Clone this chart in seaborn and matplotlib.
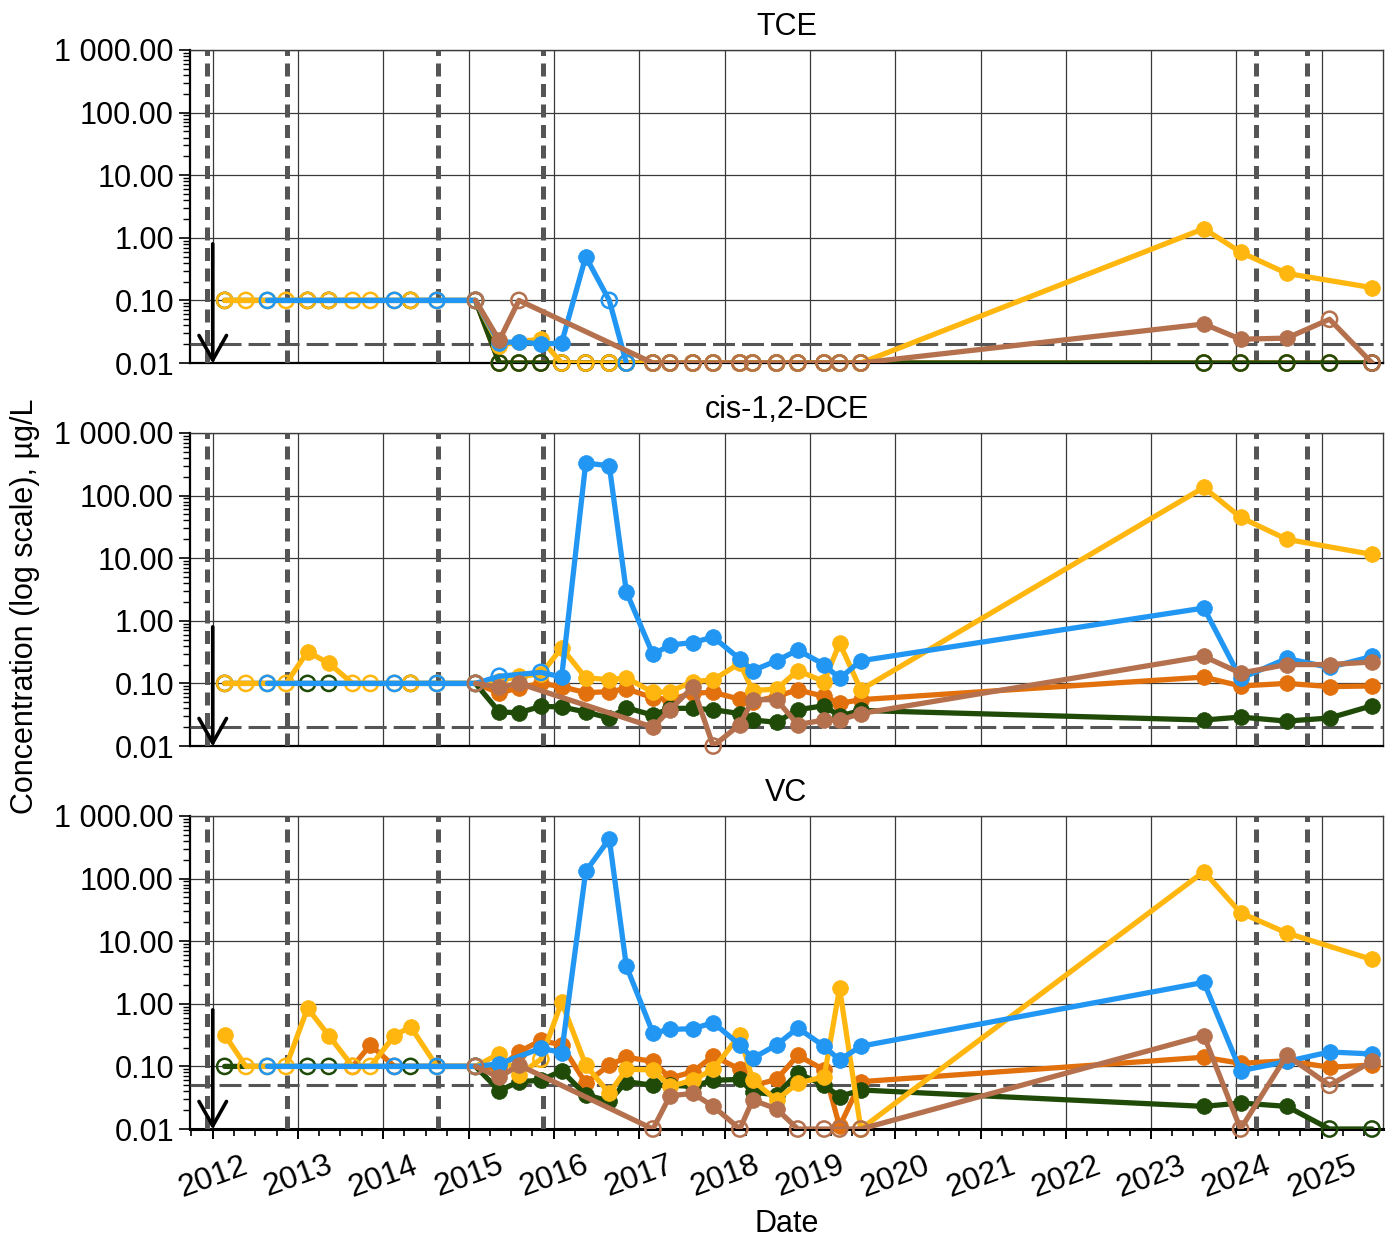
import numpy as np
import pandas as pd
import matplotlib
matplotlib.use("Agg")
import matplotlib.pyplot as plt
import matplotlib.dates as mdates
from matplotlib.ticker import FixedLocator, FuncFormatter, LogLocator, NullFormatter
import seaborn as sns

# sampling dates shared by all wells
sample_dates = [
    "2012-02-21", "2012-05-22", "2012-08-22", "2012-11-10", "2013-02-10", "2013-05-12",
    "2013-08-22", "2013-11-06", "2014-02-17", "2014-04-27", "2014-08-18", "2015-01-30",
    "2015-05-12", "2015-08-04", "2015-11-06", "2016-02-03", "2016-05-16", "2016-08-25",
    "2016-11-06", "2017-02-28", "2017-05-12", "2017-08-18", "2017-11-13", "2018-03-07",
    "2018-05-01", "2018-08-11", "2018-11-10", "2019-03-03", "2019-05-08", "2019-08-07",
    "2023-08-15", "2024-01-19", "2024-08-04", "2025-02-03", "2025-08-04",
]

# "<x" = not detected at reporting limit x, None = not sampled
tce_blue = [None, None, "<0.1", None, None, None, None, None, "<0.1", None, "<0.1", "<0.1",
            0.021, 0.022, 0.020, 0.021, 0.50, "<0.1", "<0.01", None, None, None, None, None,
            None, None, None, None, None, None,
            None, None, None, None, None]
tce_yellow = ["<0.1", "<0.1", "<0.1", "<0.1", "<0.1", "<0.1", "<0.1", "<0.1", "<0.1", "<0.1", "<0.1", "<0.1",
              0.019, 0.022, 0.024, "<0.01", "<0.01", "<0.01", "<0.01", "<0.01", "<0.01", "<0.01", "<0.01", "<0.01",
              "<0.01", "<0.01", "<0.01", "<0.01", "<0.01", "<0.01",
              1.4, 0.59, 0.27, None, 0.16]
tce_brown = [None, None, None, None, None, None, None, None, None, None, None, "<0.1",
             0.023, "<0.1", None, None, None, None, None, "<0.01", "<0.01", "<0.01", "<0.01", "<0.01",
             "<0.01", "<0.01", "<0.01", "<0.01", "<0.01", "<0.01",
             0.042, 0.024, 0.025, "<0.05", "<0.01"]
tce_orange = [None, None, None, None, None, None, None, None, None, None, None, "<0.1",
              "<0.01", "<0.01", "<0.01", "<0.01", "<0.01", "<0.01", "<0.01", "<0.01", "<0.01", "<0.01", "<0.01", "<0.01",
              "<0.01", "<0.01", "<0.01", "<0.01", "<0.01", "<0.01",
              "<0.01", "<0.01", "<0.01", "<0.01", "<0.01"]
tce_green = ["<0.1", None, None, None, "<0.1", "<0.1", None, None, None, "<0.1", None, "<0.1",
             "<0.01", "<0.01", "<0.01", "<0.01", "<0.01", "<0.01", "<0.01", "<0.01", "<0.01", "<0.01", "<0.01", "<0.01",
             "<0.01", "<0.01", "<0.01", "<0.01", "<0.01", "<0.01",
             "<0.01", "<0.01", "<0.01", "<0.01", "<0.01"]

dce_blue = [None, None, "<0.1", None, None, None, None, None, "<0.1", None, "<0.1", "<0.1",
            "<0.13", None, "<0.15", 0.127, 330, 300, 2.9, 0.29, 0.41, 0.45, 0.55, 0.245,
            0.16, 0.23, 0.34, 0.20, 0.12, 0.23,
            1.6, 0.12, 0.25, 0.18, 0.27]
dce_yellow = ["<0.1", "<0.1", "<0.1", "<0.1", 0.32, 0.21, "<0.1", "<0.1", "<0.1", "<0.1", "<0.1", "<0.1",
              0.11, 0.13, 0.14, 0.37, 0.123, 0.115, 0.123, 0.072, 0.074, 0.107, 0.114, 0.21,
              0.077, 0.081, 0.16, 0.107, 0.44, 0.079,
              135, 45, 20, None, 11.5]
dce_brown = [None, None, None, None, None, None, None, None, None, None, None, "<0.1",
             0.087, 0.10, None, None, None, None, None, 0.020, 0.038, 0.088, "<0.01", 0.022,
             0.055, 0.055, 0.022, 0.026, 0.026, 0.033,
             0.27, 0.146, 0.20, 0.20, 0.22]
dce_orange = [None, None, None, None, None, None, None, None, None, None, None, "<0.1",
              0.070, 0.085, 0.10, 0.089, 0.071, 0.074, 0.082, 0.059, 0.055, 0.070, 0.072, 0.056,
              0.051, 0.062, 0.079, 0.062, 0.048, 0.055,
              0.126, 0.091, 0.10, 0.089, 0.091]
dce_green = ["<0.1", None, None, None, "<0.1", "<0.1", None, None, None, "<0.1", None, "<0.1",
             0.035, 0.034, 0.043, 0.042, 0.035, 0.028, 0.041, 0.031, 0.040, 0.040, 0.038, 0.033,
             0.026, 0.024, 0.038, 0.044, 0.030, 0.037,
             0.026, 0.029, 0.025, 0.028, 0.044]

vc_blue = [None, None, "<0.1", None, None, None, None, None, "<0.1", None, "<0.1", "<0.1",
           0.11, None, 0.195, 0.166, 130, 430, 4.0, 0.34, 0.39, 0.40, 0.50, 0.22,
           0.135, 0.22, 0.41, 0.21, 0.126, 0.21,
           2.2, 0.085, 0.12, 0.17, 0.158]
vc_yellow = [0.32, "<0.1", "<0.1", "<0.1", 0.85, 0.31, "<0.1", "<0.1", 0.31, 0.43, "<0.1", "<0.1",
             0.16, 0.073, "<0.13", 1.07, 0.105, 0.037, 0.090, 0.088, 0.048, 0.060, 0.090, 0.32,
             0.060, 0.029, 0.054, 0.068, 1.77, "<0.01",
             129, 28.5, 13.5, None, 5.1]
vc_brown = [None, None, None, None, None, None, None, None, None, None, None, "<0.1",
            0.067, 0.105, None, None, None, None, None, "<0.01", 0.034, 0.037, 0.023, "<0.01",
            0.029, 0.021, "<0.01", "<0.01", "<0.01", "<0.01",
            0.31, "<0.01", 0.15, "<0.05", 0.12]
vc_orange = [None, None, None, None, None, None, "<0.1", 0.22, "<0.1", None, None, "<0.1",
             0.093, 0.17, 0.26, 0.22, 0.054, 0.105, 0.14, 0.12, 0.065, 0.082, 0.147, 0.090,
             0.049, 0.062, 0.15, 0.088, 0.011, 0.057,
             0.14, 0.112, 0.123, 0.097, 0.105]
vc_green = ["<0.1", None, None, None, "<0.1", "<0.1", None, None, None, "<0.1", None, "<0.1",
            0.041, 0.057, 0.060, 0.085, 0.035, 0.028, 0.057, 0.050, 0.050, 0.048, 0.060, 0.062,
            0.039, 0.035, 0.078, 0.050, 0.033, 0.042,
            0.023, 0.026, 0.023, "<0.01", "<0.01"]

panel_names = ["TCE", "cis-1,2-DCE", "VC"]
screening_levels = [0.02, 0.02, 0.05]
event_dates = ["2011-12-08", "2012-11-13", "2014-08-22", "2015-11-13", "2024-03-27", "2024-10-30"]
arrow_date = "2012-01-01"

panels = [
    {"green": tce_green, "orange": tce_orange, "yellow": tce_yellow, "blue": tce_blue, "brown": tce_brown},
    {"green": dce_green, "orange": dce_orange, "yellow": dce_yellow, "blue": dce_blue, "brown": dce_brown},
    {"green": vc_green, "orange": vc_orange, "yellow": vc_yellow, "blue": vc_blue, "brown": vc_brown},
]

colors = {"green": "#1F4A08", "orange": "#E2700C", "yellow": "#FFB710",
          "blue": "#2196F3", "brown": "#B5714E"}
draw_order = ["orange", "green", "yellow", "blue", "brown"]


def to_frame(raw):
    rows = []
    for d, v in zip(sample_dates, raw):
        if v is None:
            continue
        if isinstance(v, str):
            rows.append((pd.Timestamp(d), float(v[1:]), False))
        else:
            rows.append((pd.Timestamp(d), float(v), True))
    return pd.DataFrame(rows, columns=["date", "value", "detected"])


sns.set_style("white")
plt.rcParams["font.family"] = ["Liberation Sans", "DejaVu Sans"]
for key in ["text.color", "axes.labelcolor", "xtick.color", "ytick.color"]:
    plt.rcParams[key] = "black"

fig, axes = plt.subplots(3, 1, figsize=(13.96, 12.37), dpi=100, sharex=True)
fig.subplots_adjust(left=0.136, right=0.9907, top=0.9596, bottom=0.0873, hspace=0.2234)

for i, ax in enumerate(axes):
    data = panels[i]
    for k, name in enumerate(draw_order):
        df = to_frame(data[name])
        c = colors[name]
        z = 5 + k
        sns.lineplot(data=df, x="date", y="value", color=c, linewidth=3.8, ax=ax,
                     estimator=None, sort=False, zorder=z)
        det = df[df["detected"]]
        nd = df[~df["detected"]]
        if len(det):
            sns.scatterplot(data=det, x="date", y="value", color=c, edgecolor=c,
                            s=130, linewidth=0.5, ax=ax, zorder=z + 0.2, clip_on=False)
        if len(nd):
            sns.scatterplot(data=nd, x="date", y="value", color=c, facecolor="none",
                            edgecolor=c, s=120, linewidth=1.8, ax=ax, zorder=z + 0.2, clip_on=False)

    # reference lines
    ax.axhline(screening_levels[i], color="#555555", lw=2.2, dashes=(7.2, 2.3), zorder=3)
    for d in event_dates:
        ax.axvline(pd.Timestamp(d), color="#555555", lw=3.6, dashes=(2.6, 1.5), zorder=3)
    ax.annotate("", xy=(pd.Timestamp(arrow_date), 0.0098), xytext=(pd.Timestamp(arrow_date), 0.8),
                arrowprops=dict(arrowstyle="->, head_length=0.8, head_width=0.45", lw=2.6,
                                color="black", shrinkA=0, shrinkB=0, mutation_scale=22),
                annotation_clip=False, zorder=20)

    ax.set_yscale("log")
    ax.set_ylim(0.01, 1000)
    ax.yaxis.set_major_locator(FixedLocator([0.01, 0.1, 1, 10, 100, 1000]))
    ax.yaxis.set_major_formatter(FuncFormatter(lambda v, p: f"{v:,.2f}".replace(",", " ")))
    ax.yaxis.set_minor_locator(LogLocator(base=10, subs=np.arange(2, 10)))
    ax.yaxis.set_minor_formatter(NullFormatter())
    ax.set_xlim(pd.Timestamp("2011-09-25"), pd.Timestamp("2025-09-20"))
    ax.xaxis.set_major_locator(mdates.YearLocator())
    ax.xaxis.set_major_formatter(mdates.DateFormatter("%Y"))
    ax.xaxis.set_minor_locator(mdates.MonthLocator(bymonth=[1, 4, 7, 10]))

    ax.grid(which="major", color="#3a3a3a", lw=0.9)
    ax.set_axisbelow(True)
    ax.set_xlabel("")
    ax.set_ylabel("")
    ax.set_title(panel_names[i], fontsize=22, pad=11)

    ax.tick_params(axis="y", which="major", labelsize=22, length=8, width=1.2, direction="out", left=True)
    ax.tick_params(axis="y", which="minor", length=5, width=1.0, direction="out", left=True)
    for side in ["top", "right"]:
        ax.spines[side].set_color("#3a3a3a")
        ax.spines[side].set_linewidth(1.0)
    for side in ["left", "bottom"]:
        ax.spines[side].set_color("black")
        ax.spines[side].set_linewidth(1.6)

    if i < 2:
        ax.tick_params(axis="x", which="both", length=0, labelbottom=False)
    else:
        ax.tick_params(axis="x", which="major", length=7.5, width=1.4, direction="out",
                       bottom=True, labelsize=23, labelrotation=20, pad=8)
        ax.tick_params(axis="x", which="minor", length=5, width=1.2, direction="out", bottom=True)
        ax.spines["bottom"].set_linewidth(2.2)
        for lbl in ax.get_xticklabels():
            lbl.set_ha("center")
        ax.set_xlabel("Date", fontsize=22, labelpad=4)

fig.text(0.018, 0.51, "Concentration (log scale), µg/L", rotation=90,
         va="center", ha="center", fontsize=22)

fig.savefig("out.png", dpi=100)
